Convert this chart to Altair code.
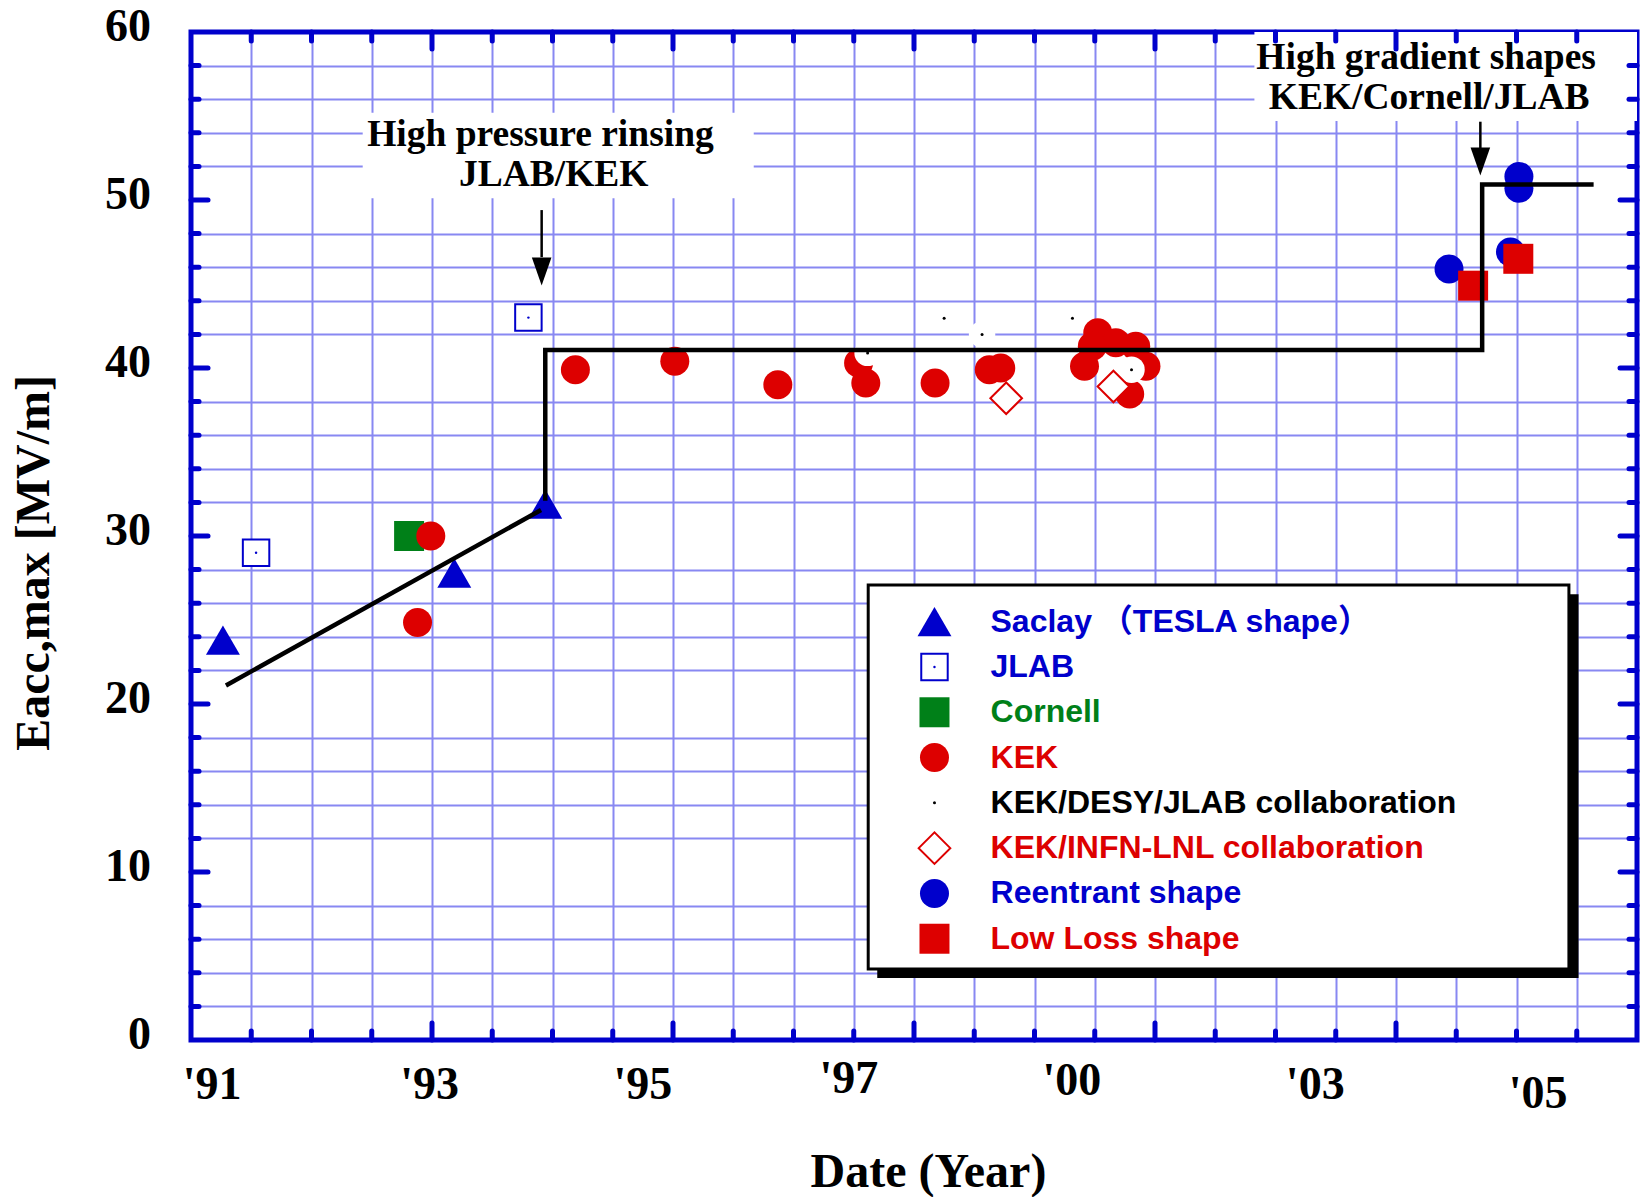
import altair as alt
import pandas as pd

BLUE = "#0000CC"
RED = "#DD0000"
GREEN = "#008018"
GRID = "#8888f2"

# ---- data (x in axis grid units: 0..24 spans the date axis; y = Eacc,max [MV/m]) ----
saclay_x = [0.53, 4.37, 5.88]
saclay_y = [23.8, 27.8, 31.9]
jlab_x = [1.08, 5.6]
jlab_y = [29.0, 43.0]
cornell_x = [3.62]
cornell_y = [30.0]
kek_x = [3.98, 3.76, 6.38, 8.03, 9.74, 11.08, 11.2, 12.35, 13.25, 13.44,
         15.05, 15.35, 15.68, 14.96, 14.83, 15.85, 15.58]
kek_y = [30.0, 24.85, 39.9, 40.4, 39.0, 40.3, 39.1, 39.1, 39.9, 40.0,
         42.1, 41.5, 41.3, 41.3, 40.1, 40.1, 38.45]
collab_x = [11.23, 12.50, 13.13, 14.63, 15.61]
collab_y = [40.9, 42.96, 42.0, 42.96, 39.9]
infn_x = [13.53, 15.31]
infn_y = [38.2, 38.9]
reentrant_x = [20.88, 21.9, 22.04, 22.04]
reentrant_y = [45.9, 46.9, 50.7, 51.4]
lowloss_x = [21.28, 22.03]
lowloss_y = [44.9, 46.5]

# trend lines
slope_x = [0.58, 5.81]
slope_y = [21.1, 31.55]
step_x = [5.88, 5.88, 21.43, 21.43, 23.28]
step_y = [32.1, 41.07, 41.07, 50.93, 50.93]

# axis labels
xtick_text = ["'91", "'93", "'95", "'97", "'00", "'03", "'05"]
xtick_pos = [0.35, 3.96, 7.5, 10.92, 14.62, 18.66, 22.36]
xtick_lab_y = [-2.68, -2.68, -2.68, -2.32, -2.44, -2.68, -3.21]
ytick_vals = [0, 10, 20, 30, 40, 50, 60]
x_minor = [v for v in range(1, 24) if v % 4]
x_major = [4, 8, 12, 16, 20]
y_minor = [v for v in range(2, 60, 2) if v % 10]
y_major = [10, 20, 30, 40, 50]

# annotations
annot_text = ["High pressure rinsing", "JLAB/KEK", "High gradient shapes", "KEK/Cornell/JLAB"]
annot_x = [5.80, 6.02, 20.50, 20.55]
annot_y = [53.87, 51.49, 58.45, 56.07]
annot_box_x = [2.85, 17.65]
annot_box_x2 = [9.34, 24.0]
annot_box_y = [55.2, 60.0]
annot_box_y2 = [50.1, 54.7]
arrow_x = [5.82, 21.40]
arrow_top = [49.4, 54.66]
arrow_base = [46.6, 53.0]
arrow_head = [45.75, 52.29]

# legend
legend_labels = ["Saclay （TESLA shape）", "JLAB", "Cornell", "KEK",
                 "KEK/DESY/JLAB collaboration", "KEK/INFN-LNL collaboration",
                 "Reentrant shape", "Low Loss shape"]
legend_colors = [BLUE, BLUE, GREEN, RED, "black", RED, BLUE, RED]
legend_row_y = [24.9 - 2.696 * i for i in range(8)]
legend_sym_x = 12.34
legend_lab_x = 13.27
legend_box = dict(x=11.24, x2=22.87, y=27.08, y2=4.23)

W, H = 1446, 1008
xs = alt.Scale(domain=[0, 24], nice=False, zero=False)
ys = alt.Scale(domain=[0, 60], nice=False, zero=False)
AX_X = alt.Axis(values=list(range(1, 24)), grid=True, gridColor=GRID, gridWidth=2,
                labels=False, ticks=False, domain=False, title="")
AX_Y = alt.Axis(values=y_minor, grid=True, gridColor=GRID, gridWidth=2,
                labels=False, ticks=False, domain=False, title="")


def X(f="x"):
    return alt.X(f"{f}:Q", scale=xs, axis=AX_X)


def Y(f="y"):
    return alt.Y(f"{f}:Q", scale=ys, axis=AX_Y)


def pts(xv, yv):
    return pd.DataFrame({"x": xv, "y": yv})


def points(df, shape, size, fill, stroke=None, sw=0):
    kw = dict(shape=shape, size=size, fill=fill, opacity=1, fillOpacity=1)
    if stroke:
        kw.update(stroke=stroke, strokeWidth=sw)
    else:
        kw.update(strokeWidth=0)
    return alt.Chart(df).mark_point(filled=True, **kw).encode(x=X(), y=Y())


layers = []

# white boxes behind annotations (hide grid)
boxes = pd.DataFrame({"x": annot_box_x, "x2": annot_box_x2, "y": annot_box_y, "y2": annot_box_y2})
layers.append(alt.Chart(boxes).mark_rect(color="white").encode(
    x=X(), x2="x2:Q", y=Y(), y2="y2:Q"))

# data markers
layers.append(points(pts(saclay_x, saclay_y), "triangle-up", 1150, BLUE))
layers.append(points(pts(cornell_x, cornell_y), "square", 900, GREEN))
layers.append(points(pts(kek_x, kek_y), "circle", 841, RED))
layers.append(points(pts(jlab_x, jlab_y), "square", 700, "white", BLUE, 2))
layers.append(points(pts(jlab_x, jlab_y), "circle", 6, BLUE))
layers.append(points(pts(collab_x, collab_y), "circle", 700, "white"))
layers.append(points(pts(collab_x, collab_y), "circle", 9, "black"))
layers.append(points(pts(infn_x, infn_y), "diamond", 1000, "white", RED, 2))
layers.append(points(pts(reentrant_x, reentrant_y), "circle", 841, BLUE))
layers.append(points(pts(lowloss_x, lowloss_y), "square", 900, RED))

# trend lines
lines = pd.DataFrame({
    "x": slope_x + step_x,
    "y": slope_y + step_y,
    "seg": ["a"] * len(slope_x) + ["b"] * len(step_x),
    "o": list(range(len(slope_x))) + list(range(len(step_x))),
})
layers.append(alt.Chart(lines).mark_line(color="black", strokeWidth=4.5, strokeJoin="miter").encode(
    x=X(), y=Y(), detail="seg:N", order="o:Q"))

# arrows
arr = pd.DataFrame({"x": arrow_x, "y": arrow_top, "y2": arrow_base, "yh": arrow_head})
layers.append(alt.Chart(arr).mark_rule(color="black", strokeWidth=2.5).encode(
    x=X(), y=Y(), y2="y2:Q"))
layers.append(alt.Chart(arr).mark_point(filled=True, shape="M-0.7,-1L0.7,-1L0,1Z", size=784,
                                        fill="black", opacity=1, strokeWidth=0).encode(
    x=X(), y=Y("yh")))

# annotation text
ann = pd.DataFrame({"x": annot_x, "y": annot_y, "t": annot_text})
layers.append(alt.Chart(ann).mark_text(font="Liberation Serif", fontWeight="bold", fontSize=37.5,
                                       align="center", baseline="middle", color="black").encode(
    x=X(), y=Y(), text="t:N"))

# legend box with shadow
lb = legend_box
shadow = pd.DataFrame({"x": [lb["x"] + 0.15], "x2": [lb["x2"] + 0.16],
                       "y": [lb["y"] - 0.54], "y2": [lb["y2"] - 0.54]})
layers.append(alt.Chart(shadow).mark_rect(color="black").encode(x=X(), x2="x2:Q", y=Y(), y2="y2:Q"))
box = pd.DataFrame({"x": [lb["x"]], "x2": [lb["x2"]], "y": [lb["y"]], "y2": [lb["y2"]]})
layers.append(alt.Chart(box).mark_rect(fill="white", stroke="black", strokeWidth=3).encode(
    x=X(), x2="x2:Q", y=Y(), y2="y2:Q"))


def leg_pt(i):
    return pts([legend_sym_x], [legend_row_y[i]])


layers.append(points(leg_pt(0), "triangle-up", 1150, BLUE))
layers.append(points(leg_pt(1), "square", 700, "white", BLUE, 2))
layers.append(points(leg_pt(1), "circle", 6, BLUE))
layers.append(points(leg_pt(2), "square", 900, GREEN))
layers.append(points(leg_pt(3), "circle", 841, RED))
layers.append(points(leg_pt(4), "circle", 9, "black"))
layers.append(points(leg_pt(5), "diamond", 1000, "white", RED, 2))
layers.append(points(leg_pt(6), "circle", 841, BLUE))
layers.append(points(leg_pt(7), "square", 900, RED))

leg = pd.DataFrame({"x": [legend_lab_x] * 8, "y": legend_row_y, "t": legend_labels, "c": legend_colors})
layers.append(alt.Chart(leg).mark_text(font="Liberation Sans, Noto Sans CJK JP", fontWeight="bold",
                                       fontSize=32, align="left", baseline="middle").encode(
    x=X(), y=Y(), text="t:N", color=alt.Color("c:N", scale=None)))

# inward frame ticks
def yticks(vals, length, side):
    df = pd.DataFrame({"y": vals})
    if side == "left":
        xa, xb = alt.value(0), alt.value(length)
    else:
        xa, xb = alt.value(W), alt.value(W - length)
    return alt.Chart(df).mark_rule(color=BLUE, strokeWidth=5, strokeCap="round").encode(
        y=Y(), x=xa, x2=xb)


def xticks(vals, length, side):
    df = pd.DataFrame({"x": vals})
    if side == "bottom":
        ya, yb = alt.value(H), alt.value(H - length)
    else:
        ya, yb = alt.value(0), alt.value(length)
    return alt.Chart(df).mark_rule(color=BLUE, strokeWidth=5, strokeCap="round").encode(
        x=X(), y=ya, y2=yb)


layers += [yticks(y_minor, 8, "left"), yticks(y_major, 17, "left"),
           yticks(y_minor, 8, "right"), yticks(y_major, 17, "right"),
           xticks(x_minor, 9, "bottom"), xticks(x_major, 17, "bottom"),
           xticks(x_minor, 9, "top"), xticks(x_major, 17, "top")]

# tick labels
yl = pd.DataFrame({"y": ytick_vals, "t": [str(v) for v in ytick_vals]})
layers.append(alt.Chart(yl).mark_text(font="Liberation Serif", fontWeight="bold", fontSize=46,
                                      align="right", baseline="middle", dy=-5, color="black").encode(
    y=Y(), x=alt.value(-40), text="t:N"))
xl = pd.DataFrame({"x": xtick_pos, "y": xtick_lab_y, "t": xtick_text})
layers.append(alt.Chart(xl).mark_text(font="Liberation Serif", fontWeight="bold", fontSize=46,
                                      align="center", baseline="middle", color="black").encode(
    x=X(), y=Y(), text="t:N"))

# axis titles
titles = pd.DataFrame({"x": [12.24], "y": [-7.92], "t": ["Date (Year)"]})
layers.append(alt.Chart(titles).mark_text(font="Liberation Serif", fontWeight="bold", fontSize=48,
                                          align="center", baseline="middle", color="black").encode(
    x=X(), y=Y(), text="t:N"))
ytitle = pd.DataFrame({"x": [-2.59], "y": [28.4], "t": ["Eacc,max [MV/m]"]})
layers.append(alt.Chart(ytitle).mark_text(font="Liberation Serif", fontWeight="bold", fontSize=48,
                                          align="center", baseline="middle", angle=270, color="black").encode(
    x=X(), y=Y(), text="t:N"))

chart = alt.layer(*layers).properties(
    width=W, height=H,
    padding={"left": 191, "top": 32, "right": 4, "bottom": 157},
    autosize=alt.AutoSizeParams(type="none"),
    background="white",
).configure_view(stroke=BLUE, strokeWidth=5)

chart.save("out.html", embed_options={"renderer": "svg", "actions": False})
